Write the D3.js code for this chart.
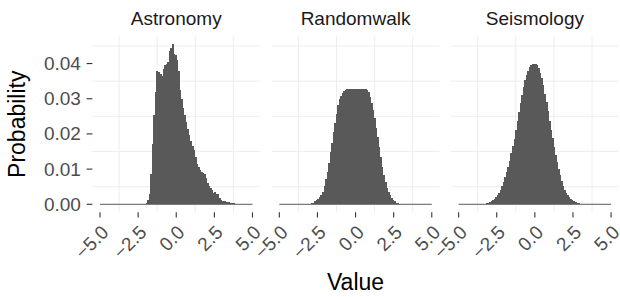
<!DOCTYPE html>
<html>
<head>
<meta charset="utf-8">
<script src="https://cdn.jsdelivr.net/npm/d3@7"></script>
<style>
  body { margin: 0; background: #fff; }
  svg { display: block; font-family: "Liberation Sans", Arial, sans-serif; }
</style>
</head>
<body>
<script>
// facets and histogram bins (width 0.1, from -5 to 5), values = probability per bin
const facets = ["Astronomy", "Randomwalk", "Seismology"];
const binStart = -5;
const binWidth = 0.1;

const astronomy = [
  0, 0, 0, 0, 0, 0, 0, 0, 0, 0,
  0, 0, 0, 0, 0, 0, 0, 0, 0, 0,
  0, 0, 0, 0, 0, 0, 0, 0, 0, 0,
  0.0005, 0.0012, 0.003, 0.0085, 0.017, 0.0255, 0.032, 0.038, 0.0375, 0.037,
  0.0365, 0.0385, 0.0395, 0.040, 0.0405, 0.0435, 0.0445, 0.0455, 0.0428, 0.0424,
  0.041, 0.038, 0.0325, 0.0298, 0.0275, 0.0255, 0.0235, 0.0215, 0.0198, 0.018,
  0.0165, 0.0155, 0.0135, 0.0115, 0.0105, 0.0098, 0.0092, 0.0088, 0.0085, 0.0075,
  0.006, 0.0052, 0.0045, 0.004, 0.0033, 0.0035, 0.003, 0.0028, 0.0017, 0.0013,
  0.001, 0.0009, 0.0007, 0.0006, 0.0006, 0.0005, 0.0005, 0.0004, 0.0002, 0,
  0, 0, 0, 0, 0, 0, 0, 0, 0, 0
];

const randomwalk = [
  0, 0, 0, 0, 0, 0, 0, 0, 0, 0,
  0, 0, 0, 0, 0, 0, 0, 0, 0, 0,
  0, 0.0003, 0.0005, 0.0008, 0.0011, 0.0015, 0.002, 0.0027, 0.0035, 0.0052,
  0.0072, 0.0092, 0.0118, 0.0148, 0.0175, 0.0205, 0.0232, 0.0258, 0.0282, 0.0298,
  0.0308, 0.0317, 0.0322, 0.0325, 0.0327, 0.0328, 0.0329, 0.0328, 0.0329, 0.0328,
  0.0328, 0.0329, 0.0328, 0.0328, 0.0329, 0.0328, 0.0327, 0.0324, 0.0318, 0.0305,
  0.0288, 0.0268, 0.0245, 0.0218, 0.019, 0.0162, 0.0133, 0.0106, 0.0082, 0.0062,
  0.0046, 0.0034, 0.0025, 0.0018, 0.0012, 0.0008, 0.0005, 0.0003, 0.0001, 0,
  0, 0, 0, 0, 0, 0, 0, 0, 0, 0,
  0, 0, 0, 0, 0, 0, 0, 0, 0, 0
];

const seismology = [
  0, 0, 0, 0, 0, 0, 0, 0, 0, 0,
  0, 0, 0, 0, 0, 0, 0.0001, 0.0002, 0.0003, 0.0005,
  0.0007, 0.0009, 0.0012, 0.0016, 0.0021, 0.0027, 0.0033, 0.0042, 0.0052, 0.0064,
  0.0077, 0.0091, 0.0106, 0.0124, 0.0145, 0.0165, 0.0186, 0.021, 0.0238, 0.0262,
  0.0288, 0.031, 0.0333, 0.0352, 0.0368, 0.038, 0.039, 0.0397, 0.04, 0.0398,
  0.04, 0.0396, 0.0386, 0.0372, 0.0358, 0.034, 0.0313, 0.0291, 0.0265, 0.0238,
  0.0212, 0.0187, 0.0163, 0.014, 0.0119, 0.0099, 0.0082, 0.0067, 0.0053, 0.0042,
  0.0033, 0.0026, 0.002, 0.0015, 0.0011, 0.0008, 0.0006, 0.0004, 0.0003, 0.0002,
  0.0001, 0, 0, 0, 0, 0, 0, 0, 0, 0,
  0, 0, 0, 0, 0, 0, 0, 0, 0, 0
];

const series = [astronomy, randomwalk, seismology];

const xBreaks = [-5, -2.5, 0, 2.5, 5];
const xTickLabels = ["\u22125.0", "\u22122.5", "0.0", "2.5", "5.0"];
const xMinor = [-3.75, -1.25, 1.25, 3.75];
const yBreaks = [0, 0.01, 0.02, 0.03, 0.04];
const yTickLabels = ["0.00", "0.01", "0.02", "0.03", "0.04"];
const yMinor = [0.005, 0.015, 0.025, 0.035, 0.045];

const width = 620, height = 297;
const panel = { top: 36.2, bottom: 212.3, left: 92.4, width: 167.7, gap: 11.6 };
const barFill = "#595959";
const tickFont = 19;

const svg = d3.select("body").append("svg")
  .attr("width", width)
  .attr("height", height);

const yMax = d3.max(series, s => d3.max(s));
const yPad = yMax * 0.05;
const y = d3.scaleLinear()
  .domain([-yPad, yMax + yPad])
  .range([panel.bottom, panel.top]);

facets.forEach((name, k) => {
  const left = panel.left + k * (panel.width + panel.gap);
  const x = d3.scaleLinear()
    .domain([-5.5, 5.5])
    .range([left, left + panel.width]);

  const g = svg.append("g");

  // minor grid only
  g.append("g").selectAll("line")
    .data(xMinor)
    .join("line")
    .attr("x1", d => x(d)).attr("x2", d => x(d))
    .attr("y1", panel.top).attr("y2", panel.bottom)
    .attr("stroke", "#ebebeb").attr("stroke-width", 0.9);

  g.append("g").selectAll("line")
    .data(yMinor)
    .join("line")
    .attr("x1", left).attr("x2", left + panel.width)
    .attr("y1", d => y(d)).attr("y2", d => y(d))
    .attr("stroke", "#ebebeb").attr("stroke-width", 0.9);

  const bins = series[k].map((v, i) => ({
    x0: binStart + i * binWidth,
    x1: binStart + (i + 1) * binWidth,
    v
  }));

  // zero-height bins show as a line along the baseline
  g.append("line")
    .attr("x1", x(binStart)).attr("x2", x(binStart + bins.length * binWidth))
    .attr("y1", y(0)).attr("y2", y(0))
    .attr("stroke", barFill).attr("stroke-width", 1);

  g.append("g")
    .attr("shape-rendering", "crispEdges")
    .selectAll("rect")
    .data(bins.filter(d => d.v > 0))
    .join("rect")
    .attr("x", d => x(d.x0))
    .attr("width", d => x(d.x1) - x(d.x0) + 0.5)
    .attr("y", d => y(d.v))
    .attr("height", d => y(0) - y(d.v))
    .attr("fill", barFill);

  // strip label
  svg.append("text")
    .attr("x", left + panel.width / 2)
    .attr("y", 25)
    .attr("text-anchor", "middle")
    .attr("fill", "#1a1a1a")
    .attr("font-size", tickFont)
    .text(name);

  // x axis ticks + rotated labels
  const ax = svg.append("g");
  ax.selectAll("line")
    .data(xBreaks)
    .join("line")
    .attr("x1", d => x(d)).attr("x2", d => x(d))
    .attr("y1", panel.bottom).attr("y2", panel.bottom + 5.3)
    .attr("stroke", "#333333").attr("stroke-width", 1.1);

  ax.selectAll("text")
    .data(xBreaks)
    .join("text")
    .attr("transform", d => `translate(${x(d) + 5},${229}) rotate(-45)`)
    .attr("text-anchor", "end")
    .attr("dominant-baseline", "central")
    .attr("fill", "#4d4d4d")
    .attr("font-size", tickFont)
    .text((d, i) => xTickLabels[i]);

  // y axis only on first panel
  if (k === 0) {
    const ay = svg.append("g");
    ay.selectAll("line")
      .data(yBreaks)
      .join("line")
      .attr("x1", left - 5.8).attr("x2", left)
      .attr("y1", d => y(d)).attr("y2", d => y(d))
      .attr("stroke", "#333333").attr("stroke-width", 1.1);

    ay.selectAll("text")
      .data(yBreaks)
      .join("text")
      .attr("x", left - 11.5)
      .attr("y", d => y(d))
      .attr("text-anchor", "end")
      .attr("dominant-baseline", "central")
      .attr("fill", "#4d4d4d")
      .attr("font-size", tickFont)
      .text((d, i) => yTickLabels[i]);
  }
});

// axis titles
svg.append("text")
  .attr("x", panel.left + (3 * panel.width + 2 * panel.gap) / 2)
  .attr("y", 290)
  .attr("text-anchor", "middle")
  .attr("fill", "#000")
  .attr("font-size", 23)
  .text("Value");

svg.append("text")
  .attr("transform", `translate(24.5,${(panel.top + panel.bottom) / 2}) rotate(-90)`)
  .attr("text-anchor", "middle")
  .attr("fill", "#000")
  .attr("font-size", 23)
  .text("Probability");
</script>
</body>
</html>
